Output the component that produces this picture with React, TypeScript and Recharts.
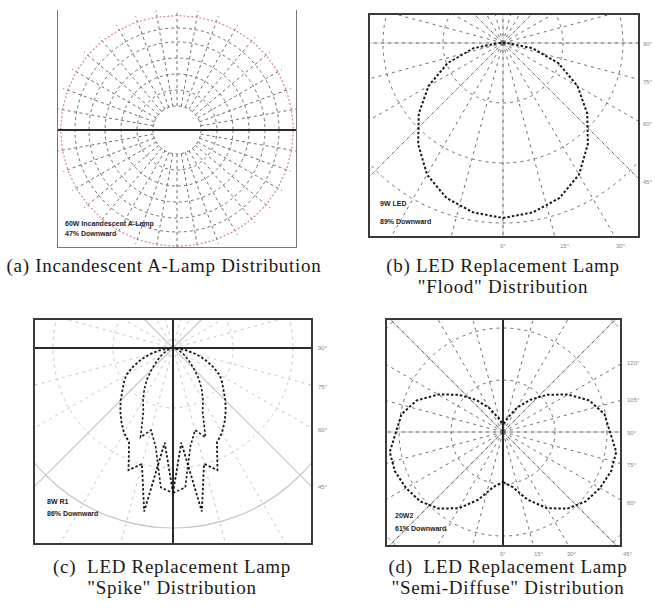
import React from 'react';
import { RadarChart, Radar, PolarGrid, PolarAngleAxis, PolarRadiusAxis } from 'recharts';

// ---------- data (angle measured from straight down, degrees) ----------
const angles10 = [0, 10, 20, 30, 40, 50, 60, 70, 80, 90, 100, 110, 120, 130, 140, 150, 160, 170,
  180, 190, 200, 210, 220, 230, 240, 250, 260, 270, 280, 290, 300, 310, 320, 330, 340, 350];
const angles5 = [0, 5, 10, 15, 20, 25, 30, 35, 40, 45, 50, 55, 60, 65, 70, 75, 80, 85,
  90, 95, 100, 105, 110, 115, 120, 125, 130, 135, 140, 145, 150, 155, 160, 165, 170, 175,
  180, 185, 190, 195, 200, 205, 210, 215, 220, 225, 230, 235, 240, 245, 250, 255, 260, 265,
  270, 275, 280, 285, 290, 295, 300, 305, 310, 315, 320, 325, 330, 335, 340, 345, 350, 355];

// (a) Incandescent A-lamp
const incandescentA = [100, 100, 100, 100, 100, 100, 100, 100, 100, 100, 100, 100, 100, 100, 100, 99, 99, 98,
  98, 98, 99, 99, 100, 100, 100, 100, 100, 100, 100, 100, 100, 100, 100, 100, 100, 100];

// (b) LED flood
const floodB = [175, 172, 165, 152, 132, 110, 86, 59, 30, 4, 0, 0, 0, 0, 0, 0, 0, 0,
  0, 0, 0, 0, 0, 0, 0, 0, 0, 4, 30, 59, 86, 110, 132, 152, 165, 172];

// (c) LED spike (two measured planes)
const spikeOuterC = [145, 95, 166, 120, 130, 104, 98, 90, 82, 74, 66, 60, 54, 44, 34, 24, 14, 6,
  0, 0, 0, 0, 0, 0, 0, 0, 0, 0, 0, 0, 0, 0, 0, 0, 0, 0,
  0, 0, 0, 0, 0, 0, 0, 0, 0, 0, 0, 0, 0, 0, 0, 0, 0, 0,
  0, 6, 14, 24, 34, 44, 54, 60, 66, 74, 82, 90, 98, 104, 130, 120, 166, 95];
const spikeInnerC = [145, 140, 100, 85, 95, 70, 60, 50, 40, 30, 22, 16, 12, 8, 5, 3, 2, 1,
  0, 0, 0, 0, 0, 0, 0, 0, 0, 0, 0, 0, 0, 0, 0, 0, 0, 0,
  0, 0, 0, 0, 0, 0, 0, 0, 0, 0, 0, 0, 0, 0, 0, 0, 0, 0,
  0, 1, 2, 3, 5, 8, 12, 16, 22, 30, 40, 50, 60, 70, 95, 85, 100, 140];

// (d) LED semi-diffuse
const semiDiffuseD = [50, 56, 72, 88, 100, 108, 112, 115, 115, 107, 103, 92, 75, 58, 42, 28, 16, 10,
  8, 10, 16, 28, 42, 58, 75, 92, 103, 107, 115, 115, 112, 108, 100, 88, 72, 56];

// grid angles (recharts convention: 0 = right, counter-clockwise)
const every10 = [0, 10, 20, 30, 40, 50, 60, 70, 80, 90, 100, 110, 120, 130, 140, 150, 160, 170,
  180, 190, 200, 210, 220, 230, 240, 250, 260, 270, 280, 290, 300, 310, 320, 330, 340, 350];
const every15 = [0, 15, 30, 45, 60, 75, 90, 105, 120, 135, 150, 165, 180, 195, 210, 225, 240, 255,
  270, 285, 300, 315, 330, 345];
const diagonals = [45, 135, 225, 315];

// labels
const captionA = ['(a) Incandescent A-Lamp Distribution'];
const captionB = ['(b) LED Replacement Lamp', '"Flood" Distribution'];
const captionC = ['(c)  LED Replacement Lamp', '"Spike" Distribution'];
const captionD = ['(d)  LED Replacement Lamp', '"Semi-Diffuse" Distribution'];
const legendA = ['60W Incandescent A-Lamp', '47% Downward'];
const legendB = ['9W LED', '89% Downward'];
const legendC = ['8W R1', '86% Downward'];
const legendD = ['20W2', '61% Downward'];
const sideTicksB = ['90°', '75°', '60°', '45°'];
const bottomTicksB = ['0°', '15°', '30°'];
const sideTicksC = ['90°', '75°', '60°', '45°'];
const sideTicksD = ['120°', '105°', '90°', '75°', '60°'];
const bottomTicksD = ['0°', '15°', '30°', '45°'];

const toRows = (angles: number[], ...series: number[][]) =>
  angles.map((a, i) => {
    const row: any = { angle: a };
    series.forEach((s, k) => { row['s' + k] = s[i]; });
    return row;
  });

const dataA = toRows(angles10, incandescentA);
const dataB = toRows(angles10, floodB);
const dataC = toRows(angles5, spikeOuterC, spikeInnerC);
const dataD = toRows(angles10, semiDiffuseD);

const DASH = '#6f6f6f';
const LIGHT = '#c8c8c8';
const DARK = '#2a2a2a';

type Frame = { left: number; top: number; width: number; height: number };

function FrameBox({ f, border, noTop, children }: { f: Frame; border: string; noTop?: boolean; children: React.ReactNode }) {
  return (
    <>
      <div style={{ position: 'absolute', left: f.left, top: f.top, width: f.width, height: f.height, overflow: 'hidden', background: '#fff' }}>
        {children}
      </div>
      <div style={{
        position: 'absolute', left: f.left, top: f.top, width: f.width, height: f.height, boxSizing: 'border-box',
        border, borderTop: noTop ? 'none' : border, pointerEvents: 'none',
      }} />
    </>
  );
}

const txt = (left: number, top: number, s: string, style: React.CSSProperties = {}) => (
  <div key={s + left + top} style={{ position: 'absolute', left, top, whiteSpace: 'nowrap', lineHeight: 1, ...style }}>{s}</div>
);

const legendStyle: React.CSSProperties = { fontFamily: 'Arial, "Liberation Sans", sans-serif', fontSize: 7, fontWeight: 700, color: '#222' };
const tickStyle: React.CSSProperties = { fontFamily: 'Arial, "Liberation Sans", sans-serif', fontSize: 6, color: '#888' };
const capStyle: React.CSSProperties = { fontFamily: '"Liberation Serif", "Times New Roman", serif', fontSize: 19, letterSpacing: 0.7, color: '#1a1a1a', textAlign: 'center', position: 'absolute' };

function Caption({ lines, cx, top, width }: { lines: string[]; cx: number; top: number; width: number }) {
  return (
    <div style={{ ...capStyle, left: cx - width / 2, top, width, lineHeight: '21px' }}>
      {lines.map((l) => <div key={l} style={{ whiteSpace: 'pre' }}>{l}</div>)}
    </div>
  );
}

const hiddenAxes = (max: number) => [
  <PolarAngleAxis key="aa" dataKey="angle" type="number" domain={[0, 360]} tick={false} axisLine={false} tickLine={false} />,
  <PolarRadiusAxis key="ra" type="number" domain={[0, max]} tick={false} axisLine={false} tickLine={false} />,
];

export default function App() {
  const fA = { left: 57, top: 10, width: 240, height: 238 };
  const fB = { left: 368, top: 13, width: 272, height: 225 };
  const fC = { left: 33, top: 318, width: 280, height: 227 };
  const fD = { left: 385, top: 318, width: 237, height: 229 };

  return (
    <div style={{ position: 'absolute', left: 0, top: 0, width: 655, height: 610, background: '#fff', overflow: 'hidden' }}>
      {/* (a) */}
      <FrameBox f={fA} border="1.5px solid #777" noTop>
        <RadarChart width={fA.width} height={fA.height} data={dataA} cx={120} cy={120}
          innerRadius={24} outerRadius={121} startAngle={-90} endAngle={270} margin={{ top: 0, right: 0, bottom: 0, left: 0 }}>
          <PolarGrid gridType="circle" polarAngles={every10} polarRadius={[24, 40, 56, 72, 88, 102]}
            stroke={DASH} strokeDasharray="3 3" fill="none" />
          {hiddenAxes(105)}
          <Radar dataKey="s0" stroke="#d48a8a" strokeWidth={1.2} strokeDasharray="2 2" fill="none" fillOpacity={0} dot={false} isAnimationActive={false} />
        </RadarChart>
        <div style={{ position: 'absolute', left: 0, top: 0 }}>
          <RadarChart width={fA.width} height={fA.height} data={dataA} cx={120} cy={120}
            outerRadius={121} startAngle={-90} endAngle={270} margin={{ top: 0, right: 0, bottom: 0, left: 0 }}>
            <PolarGrid gridType="circle" polarAngles={[0, 180]} polarRadius={[]} stroke={DARK} strokeWidth={2} fill="none" />
            {hiddenAxes(105)}
          </RadarChart>
        </div>
        {legendA.map((l, i) => txt(8, 210 + i * 10, l, legendStyle))}
      </FrameBox>
      <Caption lines={captionA} cx={164} top={255} width={340} />

      {/* (b) */}
      <FrameBox f={fB} border="2px solid #3a3a3a">
        <RadarChart width={fB.width} height={fB.height} data={dataB} cx={135} cy={30}
          outerRadius={300} startAngle={-90} endAngle={270} margin={{ top: 0, right: 0, bottom: 0, left: 0 }}>
          <PolarGrid gridType="circle" polarAngles={[0, 90, 180, 270, ...diagonals]} polarRadius={[]} stroke={LIGHT} strokeWidth={1} fill="none" />
          <PolarGrid gridType="circle" polarAngles={every15} polarRadius={[60, 120, 180, 240]}
            stroke={DASH} strokeDasharray="3 4" fill="none" />
          {hiddenAxes(300)}
          <Radar dataKey="s0" stroke="#1a1a1a" strokeWidth={2} strokeDasharray="2.5 2" fill="none" fillOpacity={0} dot={false} isAnimationActive={false} />
        </RadarChart>
        {legendB.map((l, i) => txt(12, 187 + i * 18, l, legendStyle))}
      </FrameBox>
      {sideTicksB.map((t, i) => txt(643, [41, 79, 121, 179][i], t, tickStyle))}
      {bottomTicksB.map((t, i) => txt([500, 560, 616][i], 243, t, tickStyle))}
      <Caption lines={captionB} cx={503} top={255} width={300} />

      {/* (c) */}
      <FrameBox f={fC} border="2px solid #3a3a3a">
        <RadarChart width={fC.width} height={fC.height} data={dataC} cx={140} cy={30}
          outerRadius={260} startAngle={-90} endAngle={270} margin={{ top: 0, right: 0, bottom: 0, left: 0 }}>
          <PolarGrid gridType="circle" polarAngles={diagonals} polarRadius={[180]} stroke={LIGHT} strokeWidth={1.2} fill="none" />
          <PolarGrid gridType="circle" polarAngles={every15} polarRadius={[60, 120, 240]}
            stroke={LIGHT} strokeDasharray="3 4" fill="none" />
          <PolarGrid gridType="circle" polarAngles={[0, 90, 180, 270]} polarRadius={[]} stroke={DARK} strokeWidth={2} fill="none" />
          {hiddenAxes(260)}
          <Radar dataKey="s0" stroke="#1a1a1a" strokeWidth={1.8} strokeDasharray="2.5 2" fill="none" fillOpacity={0} dot={false} isAnimationActive={false} />
          <Radar dataKey="s1" stroke="#1a1a1a" strokeWidth={1.6} strokeDasharray="2.5 2" fill="none" fillOpacity={0} dot={false} isAnimationActive={false} />
        </RadarChart>
        {legendC.map((l, i) => txt(14, 180 + i * 12, l, legendStyle))}
      </FrameBox>
      {sideTicksC.map((t, i) => txt(318, [345, 384, 427, 484][i], t, tickStyle))}
      <Caption lines={captionC} cx={172} top={556} width={330} />

      {/* (d) */}
      <FrameBox f={fD} border="2px solid #3a3a3a">
        <RadarChart width={fD.width} height={fD.height} data={dataD} cx={118} cy={114}
          outerRadius={175} startAngle={-90} endAngle={270} margin={{ top: 0, right: 0, bottom: 0, left: 0 }}>
          <PolarGrid gridType="circle" polarAngles={[0, 180, ...diagonals]} polarRadius={[]} stroke={LIGHT} strokeWidth={1.2} fill="none" />
          <PolarGrid gridType="circle" polarAngles={every15} polarRadius={[52, 104, 156]}
            stroke={DASH} strokeDasharray="3 4" fill="none" />
          <PolarGrid gridType="circle" polarAngles={[90, 270]} polarRadius={[]} stroke={DARK} strokeWidth={2} fill="none" />
          {hiddenAxes(175)}
          <Radar dataKey="s0" stroke="#1a1a1a" strokeWidth={2} strokeDasharray="2.5 2" fill="none" fillOpacity={0} dot={false} isAnimationActive={false} />
        </RadarChart>
        {legendD.map((l, i) => txt(10, 194 + i * 13, l, legendStyle))}
      </FrameBox>
      {sideTicksD.map((t, i) => txt(627, [360, 397, 430, 462, 500][i], t, tickStyle))}
      {bottomTicksD.map((t, i) => txt([500, 534, 567, 623][i], 551, t, tickStyle))}
      <Caption lines={captionD} cx={508} top={556} width={330} />
    </div>
  );
}
